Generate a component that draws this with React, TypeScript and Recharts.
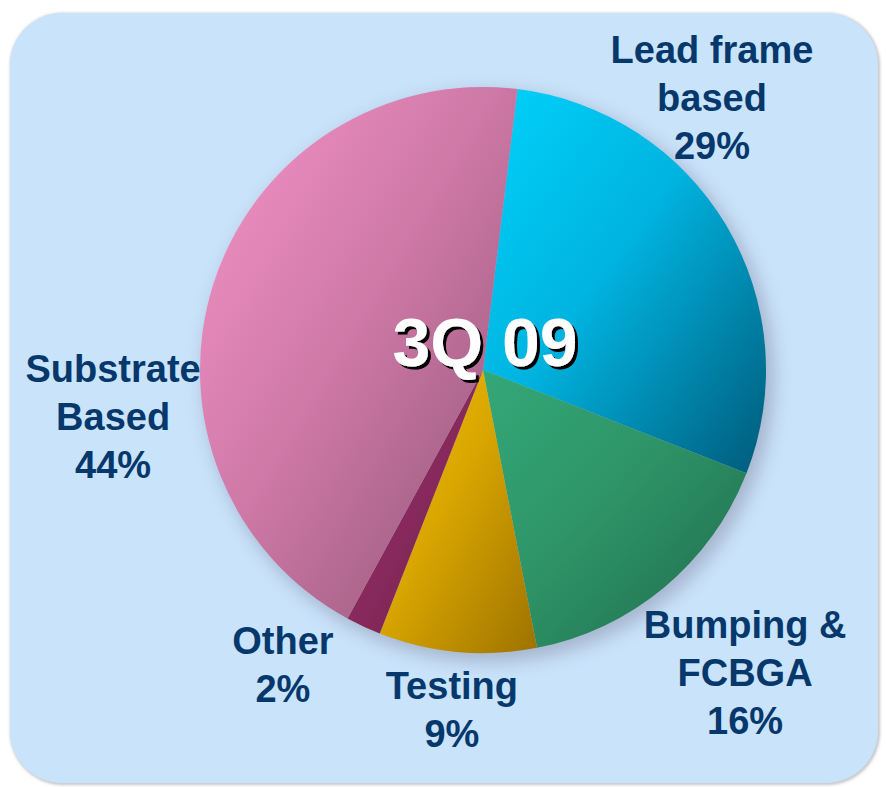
import React from "react";
import { PieChart, Pie, Cell } from "recharts";

const categories = ["Lead frame based", "Bumping & FCBGA", "Testing", "Other", "Substrate Based"];
const shares = [29, 16, 9, 2, 44];
const labelLines = [
  ["Lead frame", "based", "29%"],
  ["Bumping &", "FCBGA", "16%"],
  ["Testing", "9%"],
  ["Other", "2%"],
  ["Substrate", "Based", "44%"],
];
const title = "3Q 09";

const data = categories.map((name, i) => ({ name, value: shares[i] }));

// label block centers, relative to pie center in units of outer radius
const labelLayout = [
  { dx: 0.809, dy: -0.961 },
  { dx: 0.926, dy: 1.071 },
  { dx: -0.11, dy: 1.201 },
  { dx: -0.707, dy: 1.042 },
  { dx: -1.307, dy: 0.166 },
];

const grads = [
  ["#00d2fb", "#00b4e0", "#005a7a"],
  ["#34a878", "#2e9568", "#1f6a4a"],
  ["#f0bc00", "#d8a600", "#9e7200"],
  ["#a03470", "#8a2a5e", "#6e2048"],
  ["#f694c8", "#d07aa8", "#8e5474"],
];

const FONT = "'Liberation Sans', Arial, Helvetica, sans-serif";
const LINE_H = 48;

const renderLabel = (props: any) => {
  const { cx, cy, outerRadius, index } = props;
  const lay = labelLayout[index];
  const lines = labelLines[index];
  const x = cx + lay.dx * outerRadius;
  const yc = cy + lay.dy * outerRadius;
  const y0 = yc - ((lines.length - 1) * LINE_H) / 2;
  return (
    <g key={`lbl-${index}`}>
      <text
        x={x}
        y={y0}
        textAnchor="middle"
        dominantBaseline="central"
        fill="#07386b"
        fontFamily={FONT}
        fontWeight="bold"
        fontSize={38}
      >
        {lines.map((t, i) => (
          <tspan key={i} x={x} y={y0 + i * LINE_H} dominantBaseline="central">
            {t}
          </tspan>
        ))}
      </text>
      {index === 0 ? (
        <text
          x={cx + 2}
          y={cy - 28}
          textAnchor="middle"
          dominantBaseline="central"
          fill="#fff"
          fontFamily={FONT}
          fontWeight="bold"
          fontSize={68}
          filter="url(#titleShadow)"
        >
          {title}
        </text>
      ) : null}
    </g>
  );
};

export default function App() {
  return (
    <div style={{ position: "absolute", left: 0, top: 0, width: 886, height: 787, background: "#fff", overflow: "hidden" }}>
      <div
        style={{
          position: "absolute",
          left: 10,
          top: 13,
          width: 868,
          height: 770,
          borderRadius: 52,
          background: "#c9e3fb",
          boxShadow: "1px 1px 3px 1px rgba(150,150,160,0.55)",
        }}
      />
      <div style={{ position: "absolute", left: 0, top: 0 }}>
        <PieChart width={886} height={787} margin={{ top: 0, right: 0, bottom: 0, left: 0 }}>
          <defs>
            {grads.map((g, i) => (
              <linearGradient key={i} id={`g${i}`} x1="0" y1="0" x2="1" y2="1">
                <stop offset="0%" stopColor={g[0]} />
                <stop offset="45%" stopColor={g[1]} />
                <stop offset="100%" stopColor={g[2]} />
              </linearGradient>
            ))}
            <filter id="shadow" x="-20%" y="-20%" width="140%" height="140%">
              <feOffset dx="6" dy="7" />
              <feGaussianBlur stdDeviation="9" />
            </filter>
            <filter id="titleShadow" x="-10%" y="-20%" width="130%" height="150%">
              <feDropShadow dx="3" dy="3" stdDeviation="0.6" floodColor="#000" floodOpacity="1" />
            </filter>
          </defs>
          <Pie
            data={[{ name: "shadow", value: 1 }]}
            dataKey="value"
            cx={483}
            cy={370}
            outerRadius={285}
            startAngle={90}
            endAngle={-270}
            stroke="none"
            fill="#8890a8"
            opacity={0.55}
            style={{ filter: "url(#shadow)" }}
            isAnimationActive={false}
            legendType="none"
            tooltipType="none"
          />
          <Pie
            data={data}
            dataKey="value"
            nameKey="name"
            cx={483}
            cy={370}
            outerRadius={283}
            startAngle={83}
            endAngle={-277}
            stroke="none"
            label={renderLabel}
            labelLine={false}
            isAnimationActive={false}
          >
            {data.map((d, i) => (
              <Cell key={d.name} fill={`url(#g${i})`} />
            ))}
          </Pie>
        </PieChart>
      </div>
    </div>
  );
}
